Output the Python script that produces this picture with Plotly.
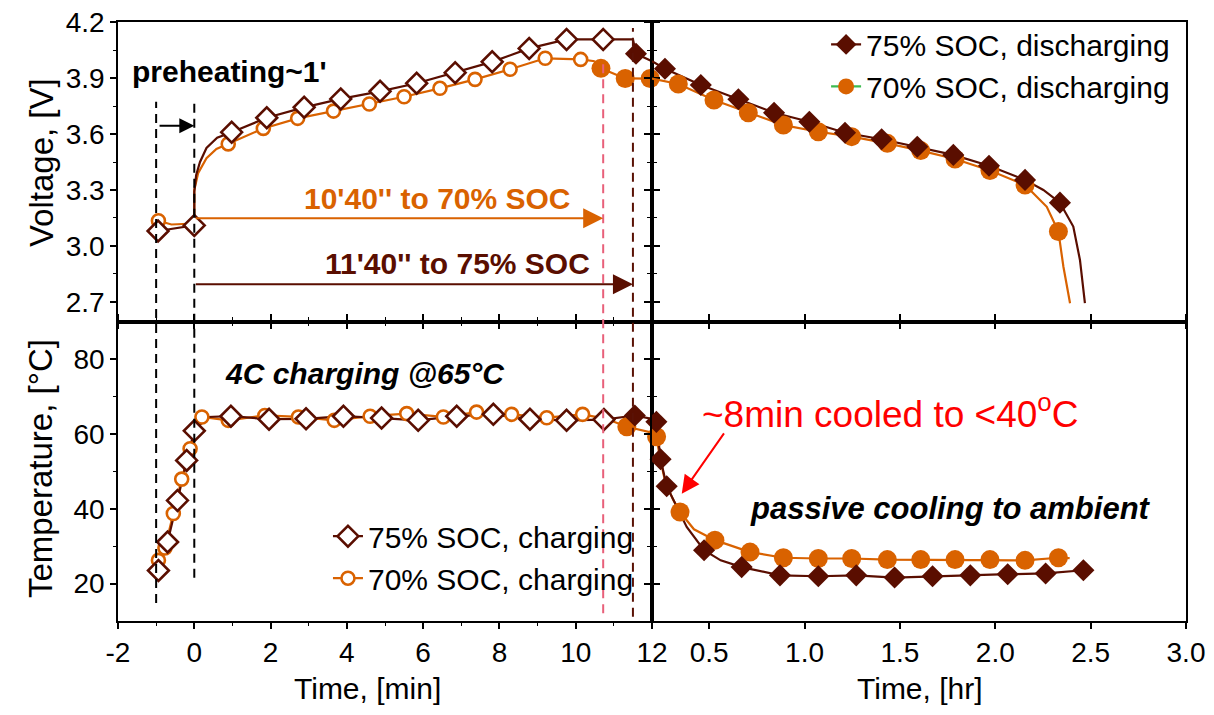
import plotly.graph_objects as go

# ---------------- colours / fonts ----------------
DARK = '#5a0e00'
ORANGE = '#d96200'
GREEN = '#3dbb50'
PINK = '#e8607a'
FONT = 'Arial, Liberation Sans, Helvetica, sans-serif'

# ---------------- tick labels ----------------
x_min_ticks = [-2, 0, 2, 4, 6, 8, 10, 12]
x_min_minor = [-1, 1, 3, 5, 7, 9, 11]
x_hr_ticks = [0.5, 1.0, 1.5, 2.0, 2.5, 3.0]
x_hr_labels = ['0.5', '1.0', '1.5', '2.0', '2.5', '3.0']
v_ticks = [2.7, 3.0, 3.3, 3.6, 3.9, 4.2]
v_labels = ['2.7', '3.0', '3.3', '3.6', '3.9', '4.2']
v_minor = [2.85, 3.15, 3.45, 3.75, 4.05]
t_ticks = [20, 40, 60, 80]
t_minor = [30, 50, 70]

# ---------------- voltage, charging (time in min) ----------------
v75c_t = [-0.95, 0.0, 0.98, 1.90, 2.88, 3.84, 4.87, 5.83, 6.84, 7.81, 8.78, 9.76, 10.72]
v75c_v = [3.08, 3.11, 3.61, 3.687, 3.743, 3.788, 3.829, 3.872, 3.929, 3.987, 4.059, 4.107, 4.107]
v75c_line_t = [-0.95, 0.0, 0.0, 0.05, 0.15, 0.32, 0.6, 0.98, 1.90, 2.88, 3.84, 4.87, 5.83,
               6.84, 7.81, 8.78, 9.76, 10.72, 11.5]
v75c_line_v = [3.08, 3.11, 3.29, 3.38, 3.45, 3.525, 3.58, 3.61, 3.687, 3.743, 3.788, 3.829, 3.872,
               3.929, 3.987, 4.059, 4.107, 4.107, 4.107]

v70c_t = [-0.94, 0.89, 1.81, 2.71, 3.65, 4.59, 5.50, 6.44, 7.36, 8.28, 9.20, 10.13]
v70c_v = [3.135, 3.547, 3.63, 3.684, 3.723, 3.761, 3.80, 3.845, 3.893, 3.947, 4.006, 4.0]
v70c_line_t = [-0.94, -0.6, 0.0, 0.0, 0.1, 0.32, 0.58, 0.89, 1.81, 2.71, 3.65, 4.59, 5.50,
               6.44, 7.36, 8.28, 9.20, 10.13, 10.5]
v70c_line_v = [3.135, 3.115, 3.12, 3.30, 3.39, 3.47, 3.52, 3.547, 3.63, 3.684, 3.723, 3.761, 3.80,
               3.845, 3.893, 3.947, 4.006, 4.0, 3.99]

# ---------------- voltage, discharging (time in hr) ----------------
v75d_t = [0.193, 0.268, 0.456, 0.653, 0.840, 1.025, 1.212, 1.404, 1.591, 1.780, 1.967, 2.156, 2.339]
v75d_v = [4.03, 3.95, 3.863, 3.786, 3.714, 3.666, 3.607, 3.572, 3.532, 3.488, 3.43, 3.354, 3.232]
v75d_line_t = [0.1917, 0.193, 0.2, 0.268, 0.456, 0.653, 0.840, 1.025, 1.212, 1.404, 1.591, 1.780,
               1.967, 2.156, 2.252, 2.339, 2.409, 2.444, 2.47]
v75d_line_v = [4.107, 4.03, 3.99, 3.95, 3.863, 3.786, 3.714, 3.666, 3.607, 3.572, 3.532, 3.488,
               3.43, 3.354, 3.30, 3.232, 3.104, 2.925, 2.693]

v70d_t = [0.1777, 0.1883, 0.1992, 0.338, 0.525, 0.705, 0.889, 1.072, 1.247, 1.434, 1.609, 1.789,
          1.972, 2.156, 2.331]
v70d_v = [3.952, 3.898, 3.898, 3.868, 3.782, 3.714, 3.648, 3.612, 3.586, 3.55, 3.511, 3.466,
          3.404, 3.327, 3.077]
v70d_line_t = [0.175, 0.1777, 0.1883, 0.1992, 0.2, 0.338, 0.525, 0.705, 0.889, 1.072, 1.247, 1.434,
               1.609, 1.789, 1.972, 2.156, 2.27, 2.331, 2.357, 2.392]
v70d_line_v = [3.99, 3.952, 3.898, 3.898, 3.897, 3.868, 3.782, 3.714, 3.648, 3.612, 3.586, 3.55,
               3.511, 3.466, 3.404, 3.327, 3.21, 3.077, 2.89, 2.693]

# ---------------- temperature, charging (time in min) ----------------
T75c_t = [-0.94, -0.70, -0.44, -0.20, 0.0, 0.96, 1.96, 2.93, 3.91, 4.91, 5.87, 6.88, 7.84, 8.80, 9.76, 10.74]
T75c_T = [23.5, 31.1, 42.2, 52.9, 60.8, 64.7, 63.9, 64.0, 64.7, 64.2, 63.6, 64.7, 65.2, 63.9, 63.6, 63.8]
T75c_line_t = [-0.94, -0.70, -0.44, -0.20, 0.0, 0.35, 0.96, 1.96, 2.93, 3.91, 4.91, 5.87, 6.88,
               7.84, 8.80, 9.76, 10.74, 11.55]
T75c_line_T = [23.5, 31.1, 42.2, 52.9, 60.8, 64.5, 64.7, 63.9, 64.0, 64.7, 64.2, 63.6, 64.7,
               65.2, 63.9, 63.6, 63.8, 64.9]

T70c_t = [-0.94, -0.77, -0.55, -0.33, -0.11, 0.2, 0.89, 1.85, 2.73, 3.67, 4.61, 5.57, 6.53, 7.40,
          8.32, 9.24, 10.18]
T70c_T = [26.2, 29.5, 38.7, 47.9, 56.0, 64.5, 63.6, 64.9, 64.5, 63.6, 64.7, 65.4, 64.5, 65.8,
          65.2, 64.3, 65.2]
T70c_line_t = T70c_t + [10.8, 11.34]
T70c_line_T = T70c_T + [64.0, 61.9]

# ---------------- temperature, discharging (time in hr) ----------------
T75d_t = [0.1925, 0.223, 0.245, 0.277, 0.473, 0.670, 0.871, 1.072, 1.271, 1.472, 1.671, 1.869,
          2.065, 2.264, 2.462]
T75d_T = [64.9, 63.2, 53.2, 46.0, 28.9, 24.4, 22.2, 21.95, 22.2, 21.6, 21.95, 22.2, 22.5, 22.7, 23.55]
T75d_line_t = [0.1925, 0.2, 0.223, 0.245, 0.277, 0.33, 0.382, 0.473, 0.56, 0.670, 0.871, 1.072,
               1.271, 1.472, 1.671, 1.869, 2.065, 2.264, 2.462]
T75d_line_T = [64.9, 64.0, 63.2, 53.2, 46.0, 40.5, 35.1, 28.9, 26.2, 24.4, 22.2, 21.95,
               22.2, 21.6, 21.95, 22.2, 22.5, 22.7, 23.55]

T70d_t = [0.189, 0.224, 0.347, 0.530, 0.714, 0.889, 1.072, 1.247, 1.434, 1.609, 1.789, 1.972,
          2.156, 2.331]
T70d_T = [61.9, 59.2, 39.1, 31.6, 28.4, 26.9, 26.7, 26.7, 26.4, 26.4, 26.4, 26.4, 26.2, 26.9]
T70d_line_t = [0.189, 0.2, 0.224, 0.24, 0.27, 0.31, 0.347, 0.42, 0.530, 0.714, 0.889, 1.072,
               1.247, 1.434, 1.609, 1.789, 1.972, 2.156, 2.331, 2.39]
T70d_line_T = [61.9, 60.3, 59.2, 54.0, 47.0, 42.5, 39.1, 34.5, 31.6, 28.4, 26.9, 26.7,
               26.7, 26.4, 26.4, 26.4, 26.4, 26.2, 26.9, 26.8]

# ---------------- helpers ----------------
BREAK_HR = 0.2  # 12 min = start of the hour axis


def split_hr(t_hr, y):
    """points before 12 min go to the minute panel, others to the hour panel"""
    left = [(t * 60, v) for t, v in zip(t_hr, y) if t <= BREAK_HR]
    right = [(t, v) for t, v in zip(t_hr, y) if t >= BREAK_HR]
    return ([p[0] for p in left], [p[1] for p in left],
            [p[0] for p in right], [p[1] for p in right])


fig = go.Figure()


def add(x, y, xa, ya, **kw):
    fig.add_trace(go.Scatter(x=x, y=y, xaxis=xa, yaxis=ya, showlegend=False,
                             cliponaxis=False, hoverinfo='skip', **kw))


LW = 2.2
open_dia = dict(symbol='diamond', size=16, color='white', line=dict(color=DARK, width=2.6))
open_cir = dict(symbol='circle', size=13, color='white', line=dict(color=ORANGE, width=2.6))
fill_dia = dict(symbol='diamond', size=17, color=DARK, line=dict(width=0))
fill_cir = dict(symbol='circle', size=19, color=ORANGE, line=dict(width=0))

# ---- lines first (70% under 75%) ----
add(v70c_line_t, v70c_line_v, 'x', 'y', mode='lines', line=dict(color=ORANGE, width=LW))
lx, ly, rx, ry = split_hr(v70d_line_t, v70d_line_v)
add(lx, ly, 'x', 'y', mode='lines', line=dict(color=ORANGE, width=LW))
add(rx, ry, 'x3', 'y3', mode='lines', line=dict(color=ORANGE, width=LW))
add(v75c_line_t, v75c_line_v, 'x', 'y', mode='lines', line=dict(color=DARK, width=LW))
lx, ly, rx, ry = split_hr(v75d_line_t, v75d_line_v)
add(lx, ly, 'x', 'y', mode='lines', line=dict(color=DARK, width=LW))
add(rx, ry, 'x3', 'y3', mode='lines', line=dict(color=DARK, width=LW))

add(T70c_line_t, T70c_line_T, 'x2', 'y2', mode='lines', line=dict(color=ORANGE, width=LW))
lx, ly, rx, ry = split_hr(T70d_line_t, T70d_line_T)
add(lx, ly, 'x2', 'y2', mode='lines', line=dict(color=ORANGE, width=LW))
add(rx, ry, 'x4', 'y4', mode='lines', line=dict(color=ORANGE, width=LW))
add(T75c_line_t, T75c_line_T, 'x2', 'y2', mode='lines', line=dict(color=DARK, width=LW))
lx, ly, rx, ry = split_hr(T75d_line_t, T75d_line_T)
add(lx, ly, 'x2', 'y2', mode='lines', line=dict(color=DARK, width=LW))
add(rx, ry, 'x4', 'y4', mode='lines', line=dict(color=DARK, width=LW))

# ---- markers ----
add(v70c_t, v70c_v, 'x', 'y', mode='markers', marker=open_cir)
lx, ly, rx, ry = split_hr(v70d_t, v70d_v)
add(lx, ly, 'x', 'y', mode='markers', marker=fill_cir)
add(rx, ry, 'x3', 'y3', mode='markers', marker=fill_cir)
add(v75c_t, v75c_v, 'x', 'y', mode='markers', marker=open_dia)
lx, ly, rx, ry = split_hr(v75d_t, v75d_v)
add(lx, ly, 'x', 'y', mode='markers', marker=fill_dia)
add(rx, ry, 'x3', 'y3', mode='markers', marker=fill_dia)

add(T70c_t, T70c_T, 'x2', 'y2', mode='markers', marker=open_cir)
lx, ly, rx, ry = split_hr(T70d_t, T70d_T)
add(lx, ly, 'x2', 'y2', mode='markers', marker=fill_cir)
add(rx, ry, 'x4', 'y4', mode='markers', marker=fill_cir)
add(T75c_t, T75c_T, 'x2', 'y2', mode='markers', marker=open_dia)
lx, ly, rx, ry = split_hr(T75d_t, T75d_T)
add(lx, ly, 'x2', 'y2', mode='markers', marker=fill_dia)
add(rx, ry, 'x4', 'y4', mode='markers', marker=fill_dia)

# ---- legend entries ----
fig.add_trace(go.Scatter(x=[None], y=[None], xaxis='x3', yaxis='y3', mode='lines+markers',
                         name='75% SOC, discharging', legend='legend',
                         line=dict(color=DARK, width=LW), marker=fill_dia))
fig.add_trace(go.Scatter(x=[None], y=[None], xaxis='x3', yaxis='y3', mode='lines+markers',
                         name='70% SOC, discharging', legend='legend',
                         line=dict(color=GREEN, width=LW), marker=fill_cir))
fig.add_trace(go.Scatter(x=[None], y=[None], xaxis='x2', yaxis='y2', mode='lines+markers',
                         name='75% SOC, charging', legend='legend2',
                         line=dict(color=DARK, width=LW), marker=open_dia))
fig.add_trace(go.Scatter(x=[None], y=[None], xaxis='x2', yaxis='y2', mode='lines+markers',
                         name='70% SOC, charging', legend='legend2',
                         line=dict(color=ORANGE, width=LW), marker=open_cir))

# ---------------- axes ----------------
TICKFONT = dict(family=FONT, size=28, color='black')
common = dict(showgrid=False, zeroline=False, showline=True, linecolor='black', linewidth=1.5,
              ticks='outside', tickcolor='black', tickwidth=1.5, ticklen=6, tickfont=TICKFONT,
              ticklabeloverflow='allow')
minor_common = dict(ticks='outside', ticklen=3, tickcolor='black', tickwidth=1.3)
V_RANGE = [2.595, 4.2005]

fig.update_layout(
    xaxis=dict(domain=[0, 0.5], anchor='y', range=[-2, 12], tickvals=x_min_ticks,
               showticklabels=False, mirror=True,
               minor=dict(tickvals=x_min_minor, **minor_common), **common),
    xaxis2=dict(domain=[0, 0.5], anchor='y2', range=[-2, 12], tickvals=x_min_ticks,
                ticktext=[str(v) for v in x_min_ticks], mirror='ticks',
                minor=dict(tickvals=x_min_minor, **minor_common), **common),
    xaxis3=dict(domain=[0.5, 1], anchor='y3', range=[0.2, 3.0], tickvals=x_hr_ticks,
                showticklabels=False, mirror=True, **common),
    xaxis4=dict(domain=[0.5, 1], anchor='y4', range=[0.2, 3.0], tickvals=x_hr_ticks,
                ticktext=x_hr_labels, mirror='ticks', **common),
    yaxis=dict(domain=[0.5, 1], anchor='x', range=V_RANGE, tickvals=v_ticks, ticktext=v_labels,
               mirror='ticks', minor=dict(tickvals=v_minor, **minor_common), **common),
    yaxis2=dict(domain=[0, 0.5], anchor='x2', range=[10, 90], tickvals=t_ticks, mirror='ticks',
                minor=dict(tickvals=t_minor, **minor_common), **common),
    yaxis3=dict(domain=[0.5, 1], anchor='x3', range=V_RANGE, tickvals=v_ticks,
                showticklabels=False, mirror=True,
                minor=dict(tickvals=v_minor, **minor_common), **common),
    yaxis4=dict(domain=[0, 0.5], anchor='x4', range=[10, 90], tickvals=t_ticks,
                showticklabels=False, mirror=True,
                minor=dict(tickvals=t_minor, **minor_common), **common),
)

# ---------------- legends ----------------
LEGFONT = dict(family=FONT, size=30, color='black')
fig.update_layout(
    legend=dict(x=0.663, y=1.006, xanchor='left', yanchor='top', font=LEGFONT,
                bgcolor='rgba(0,0,0,0)', tracegroupgap=0),
    legend2=dict(x=0.1966, y=0.185, xanchor='left', yanchor='top', font=LEGFONT,
                 bgcolor='rgba(0,0,0,0)', tracegroupgap=0),
)

# ---------------- guide lines (dashed) ----------------
def vdash(x, y0, y1, color):
    fig.add_shape(type='line', xref='x', yref='paper', x0=x, x1=x, y0=y0, y1=y1,
                  line=dict(color=color, width=2, dash='9px,6px'), layer='above')

vdash(-1.0, 0.030, 0.867, 'black')
vdash(0.0, 0.072, 0.867, 'black')
vdash(10.72, 0.013, 0.933, PINK)
vdash(11.5, 0.007, 0.99, '#5a1205')

# ---------------- arrows ----------------
def arrow(x0, x1, y, color, size, xref='x', yref='y', y0=None):
    fig.add_annotation(x=x1, y=y, ax=x0, ay=y if y0 is None else y0, xref=xref, yref=yref,
                       axref=xref, ayref=yref, text='', showarrow=True, arrowhead=2,
                       arrowsize=size, arrowwidth=2, arrowcolor=color, standoff=0, startstandoff=0)

arrow(-0.95, 0.0, 3.645, 'black', 1.5)
arrow(0.0, 10.72, 3.149, ORANGE, 2.0)
arrow(0.0, 11.5, 2.795, DARK, 2.0)
arrow(0.583, 0.356, 44.0, '#ff0000', 1.8, xref='x4', yref='y4', y0=60.5)

# ---------------- texts ----------------
def txt(x, y, s, size, color='black', xanchor='center', angle=0):
    fig.add_annotation(x=x, y=y, xref='paper', yref='paper', text=s, showarrow=False,
                       xanchor=xanchor, yanchor='middle', textangle=angle,
                       font=dict(family=FONT, size=size, color=color))

txt(0.0112, 0.917, '<b>preheating~1\'</b>', 30, xanchor='left')
txt(0.299, 0.706, "<b>10'40'' to 70% SOC</b>", 30, color=ORANGE)
txt(0.318, 0.597, "<b>11'40'' to 75% SOC</b>", 30, color=DARK)
txt(0.0983, 0.414, '<b><i>4C charging @65°C</i></b>', 30, xanchor='left')
txt(0.59, 0.1886, '<b><i>passive cooling to ambient</i></b>', 31, xanchor='left')
txt(0.545, 0.349, '~8min cooled to <40<sup>o</sup>C', 37, color='#ff0000', xanchor='left')

# axis titles
txt(0.234, -0.1125, 'Time, [min]', 30)
txt(0.7505, -0.1125, 'Time, [hr]', 30)
txt(-0.072, 0.7646, 'Voltage, [V]', 33, angle=-90)
txt(-0.072, 0.2538, 'Temperature, [°C]', 33, angle=-90)

# page has an 8px body margin: figure is 16px smaller than the window
fig.update_layout(width=1198, height=699, margin=dict(l=110, r=20, t=14, b=86, autoexpand=False),
                  plot_bgcolor='white', paper_bgcolor='white', font=dict(family=FONT))

fig.write_html('out.html')
